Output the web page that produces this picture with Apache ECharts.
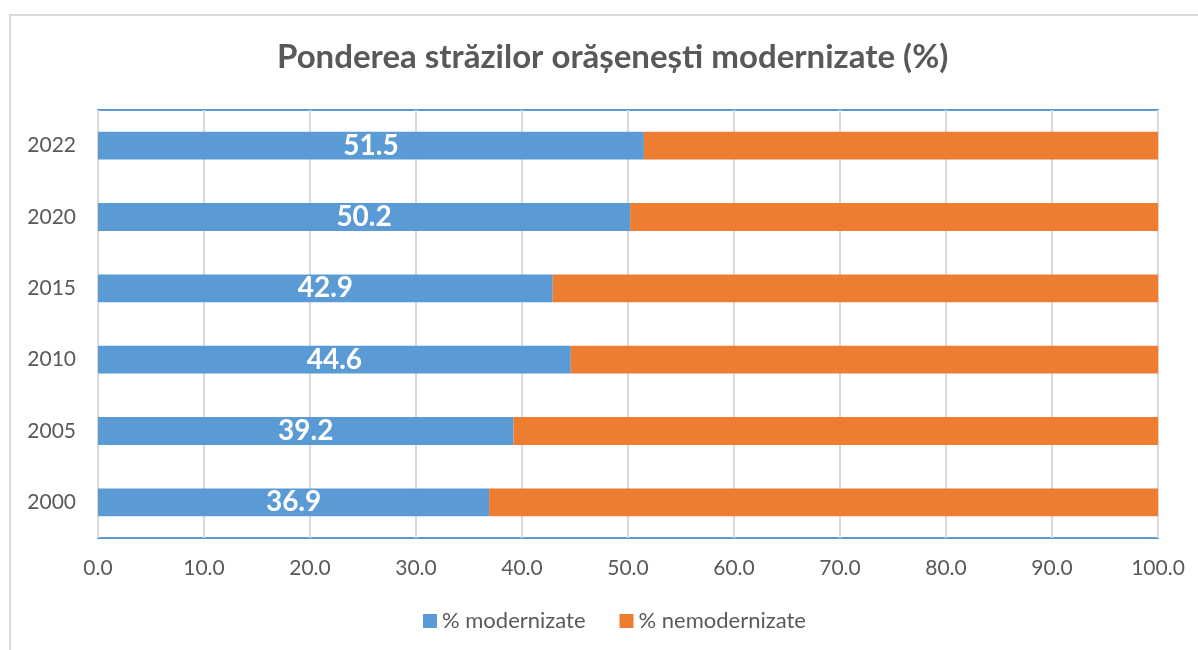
<!DOCTYPE html>
<html>
<head>
<meta charset="utf-8">
<script src="https://cdn.jsdelivr.net/npm/echarts@6/dist/echarts.min.js"></script>
<style>
  html, body { margin: 0; padding: 0; background: #fff; }
  #frame { position: absolute; left: 9px; top: 14px; width: 1200px; height: 660px; border: 2px solid #d9d9d9; box-sizing: border-box; }
  #chart { position: absolute; left: 0; top: 0; width: 1198px; height: 650px; }
</style>
</head>
<body>
<div id="frame"></div>
<div id="chart"></div>
<script>
// ani, de jos in sus
var years = ['2000', '2005', '2010', '2015', '2020', '2022'];
var modernizate = [36.9, 39.2, 44.6, 42.9, 50.2, 51.5];
var nemodernizate = [63.1, 60.8, 55.4, 57.1, 49.8, 48.5];

var chart = echarts.init(document.getElementById('chart'));
var font = 'Lato, "Open Sans", sans-serif';

var option = {
    animation: false,
    textStyle: { fontFamily: font },
    title: {
        text: 'Ponderea străzilor orășenești modernizate (%)',
        left: 272,
        top: 36,
        textStyle: { fontSize: 33, fontWeight: 'bold', color: '#595959', fontFamily: font }
    },
    legend: {
        bottom: 13,
        left: 418,
        itemWidth: 14,
        itemHeight: 14,
        itemGap: 34,
        icon: 'rect',
        textStyle: { fontSize: 22, color: '#595959', fontFamily: font },
        data: ['% modernizate', '% nemodernizate']
    },
    grid: {
        left: 98,
        right: 40,
        top: 110,
        bottom: 112,
        show: true,
        borderColor: '#5b9bd5',
        borderWidth: 2,
        containLabel: false
    },
    xAxis: {
        type: 'value',
        min: 0,
        max: 100,
        interval: 10,
        axisLine: { show: false },
        axisTick: { show: false },
        splitLine: { lineStyle: { color: '#d9d9d9', width: 2 } },
        axisLabel: {
            fontSize: 21,
            color: '#595959',
            margin: 20,
            fontFamily: font,
            formatter: function (v) { return v.toFixed(1); }
        }
    },
    yAxis: {
        type: 'category',
        data: years,
        axisLine: { show: false },
        axisTick: { show: false },
        axisLabel: { fontSize: 21, color: '#595959', margin: 22, fontFamily: font }
    },
    series: [{
        name: '% modernizate',
        type: 'bar',
        stack: 'total',
        barWidth: '39%',
        itemStyle: { color: '#5b9bd5' },
        label: {
            show: true,
            position: 'inside',
            color: '#fff',
            fontSize: 28,
            fontWeight: 'bold',
            fontFamily: font,
            formatter: function (p) { return p.value.toFixed(1); }
        },
        data: modernizate
    }, {
        name: '% nemodernizate',
        type: 'bar',
        stack: 'total',
        barWidth: '39%',
        itemStyle: { color: '#ed7d31' },
        data: nemodernizate
    }]
};

chart.setOption(option);
</script>
</body>
</html>
